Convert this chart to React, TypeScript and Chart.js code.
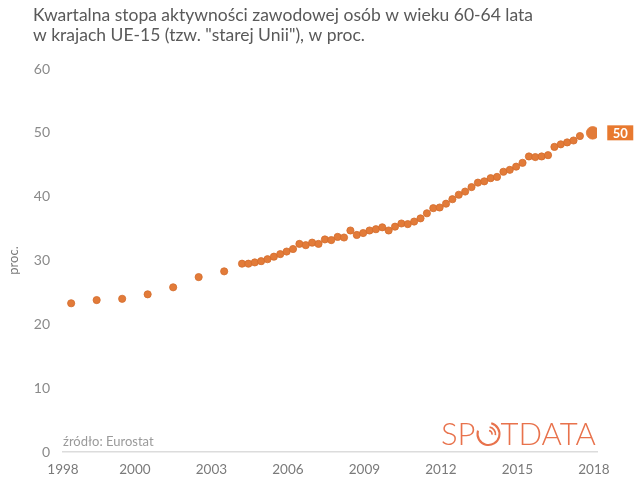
import { useEffect, useRef } from "react";
import { Chart, registerables, type Plugin } from "chart.js";

Chart.register(...registerables);

// annual averages first, quarterly data afterwards
const annualYears = [1998, 1999, 2000, 2001, 2002, 2003, 2004];
const annualValues = [23.3, 23.8, 24.0, 24.7, 25.8, 27.4, 28.3];

// 2005Q1 .. 2018Q4 (one quarter not shown in the source picture)
const quarterStartYear = 2005;
const quarterlyValues: (number | null)[] = [
  29.5, 29.5, 29.7, 29.9, 30.2, 30.6, 31.0, 31.4, 31.8, 32.6, 32.4, 32.8,
  32.6, 33.3, 33.2, 33.7, 33.6, 34.7, 34.0, 34.3, 34.7, 34.9, 35.2, 34.7,
  35.3, 35.8, 35.7, 36.1, 36.6, 37.4, 38.2, 38.3, 38.9, 39.6, 40.3, 40.8,
  41.5, 42.2, 42.4, 42.9, 43.1, 43.9, 44.2, 44.7, 45.3, 46.3, 46.2, 46.3,
  46.5, 47.8, 48.2, 48.5, 48.8, 49.5, null, 50.0,
];

const tickYears = [1998, 2000, 2003, 2006, 2009, 2012, 2015, 2018];
const lastLabel = "50";

const X_MIN = 1998.18;
const X_MAX = 2019.12;
const ORANGE = "#e27b39";

const points = [
  ...annualYears.map((year, i) => ({ x: year + 0.5, y: annualValues[i] })),
  ...quarterlyValues.map((v, i) => ({
    x: quarterStartYear + Math.floor(i / 4) + ((i % 4) + 0.8) / 4,
    y: v,
  })),
];

const decorations: Plugin<"scatter"> = {
  id: "decorations",
  afterDraw(chart) {
    const ctx = chart.ctx;
    ctx.save();

    // title
    ctx.fillStyle = "#595959";
    ctx.font = "17.5px Lato";
    ctx.textAlign = "left";
    ctx.textBaseline = "alphabetic";
    ctx.fillText(
      "Kwartalna stopa aktywności zawodowej osób w wieku 60-64 lata",
      33,
      20.7
    );
    ctx.fillText('w krajach UE-15 (tzw. "starej Unii"), w proc.', 33, 40.7);

    // source
    ctx.fillStyle = "#9a9a9a";
    ctx.font = "13px Lato";
    ctx.fillText("źródło: Eurostat", 63, 446);

    // logo
    const logoColor = "#e8724c";
    ctx.fillStyle = logoColor;
    ctx.strokeStyle = logoColor;
    ctx.font = "300 31px Lato";
    const base = 445;
    let lx = 441;
    ctx.fillText("SP", lx, base);
    lx += ctx.measureText("SP").width + 1;
    const r = 11;
    const cx = lx + r + 1;
    const cy = base - 11;
    ctx.lineWidth = 2.1;
    ctx.beginPath();
    ctx.arc(cx, cy, r, -Math.PI * 0.42, Math.PI * 1.1);
    ctx.stroke();
    ctx.lineWidth = 1.7;
    ctx.beginPath();
    ctx.arc(cx, cy, r - 4, -Math.PI * 0.45, Math.PI * 0.05);
    ctx.stroke();
    ctx.beginPath();
    ctx.arc(cx, cy, r - 7.5, -Math.PI * 0.45, Math.PI * 0.05);
    ctx.stroke();
    lx = cx + r + 1;
    ctx.fillText("TDATA", lx, base);

    // last value label
    const meta = chart.getDatasetMeta(0);
    const last = meta.data[meta.data.length - 1];
    if (last) {
      const bx = last.x + 14.6;
      ctx.fillStyle = "#e8792f";
      ctx.fillRect(bx, last.y - 7.5, 26, 15);
      ctx.fillStyle = "#ffffff";
      ctx.font = "bold 13px Lato";
      ctx.textAlign = "center";
      ctx.textBaseline = "middle";
      ctx.fillText(lastLabel, bx + 13, last.y + 0.5);
    }
    ctx.restore();
  },
};

export default function App() {
  const canvasRef = useRef<HTMLCanvasElement | null>(null);

  useEffect(() => {
    if (!canvasRef.current) return;
    const lastIndex = points.length - 1;

    const chart = new Chart(canvasRef.current, {
      type: "scatter",
      data: {
        datasets: [
          {
            data: points,
            backgroundColor: ORANGE,
            borderColor: (c) => (c.dataIndex === lastIndex ? ORANGE : "#d46c2c"),
            borderWidth: 0.8,
            pointRadius: (c) => (c.dataIndex === lastIndex ? 6.3 : 3.6),
            pointHoverRadius: 4,
          },
        ],
      },
      options: {
        responsive: false,
        animation: false,
        layout: { padding: { top: 69, left: 0, right: 43, bottom: 0 } },
        plugins: {
          legend: { display: false },
          tooltip: { enabled: false },
        },
        scales: {
          x: {
            type: "linear",
            min: X_MIN,
            max: X_MAX,
            grid: { display: false, drawTicks: false },
            border: { display: true, color: "#dcdcdc", width: 1.5 },
            afterBuildTicks: (scale) => {
              scale.ticks = tickYears.map((year, i) => ({
                value: i === 0 ? X_MIN : year + 1,
              }));
            },
            afterFit: (scale) => {
              scale.height = 27;
            },
            ticks: {
              autoSkip: false,
              maxRotation: 0,
              padding: 10,
              color: "#7a7a7a",
              font: { family: "Lato", size: 13.5 },
              callback: (_v, index) => String(tickYears[index]),
            },
          },
          y: {
            min: 0,
            max: 60,
            grid: { display: false, drawTicks: false },
            border: { display: false },
            afterFit: (scale) => {
              scale.width = 63;
            },
            ticks: {
              stepSize: 10,
              padding: 13,
              color: "#8a8a8a",
              font: { family: "Lato", size: 14 },
            },
            title: {
              display: true,
              text: "proc.",
              color: "#7a7a7a",
              font: { family: "Lato", size: 13 },
              padding: { top: 6, bottom: 0 },
            },
          },
        },
      },
      plugins: [decorations],
    });

    return () => chart.destroy();
  }, []);

  return (
    <div
      style={{
        position: "fixed",
        left: 0,
        top: 0,
        width: 640,
        height: 479,
        background: "#ffffff",
      }}
    >
      <canvas
        ref={canvasRef}
        width={640}
        height={479}
        style={{ width: 640, height: 479 }}
      />
    </div>
  );
}
